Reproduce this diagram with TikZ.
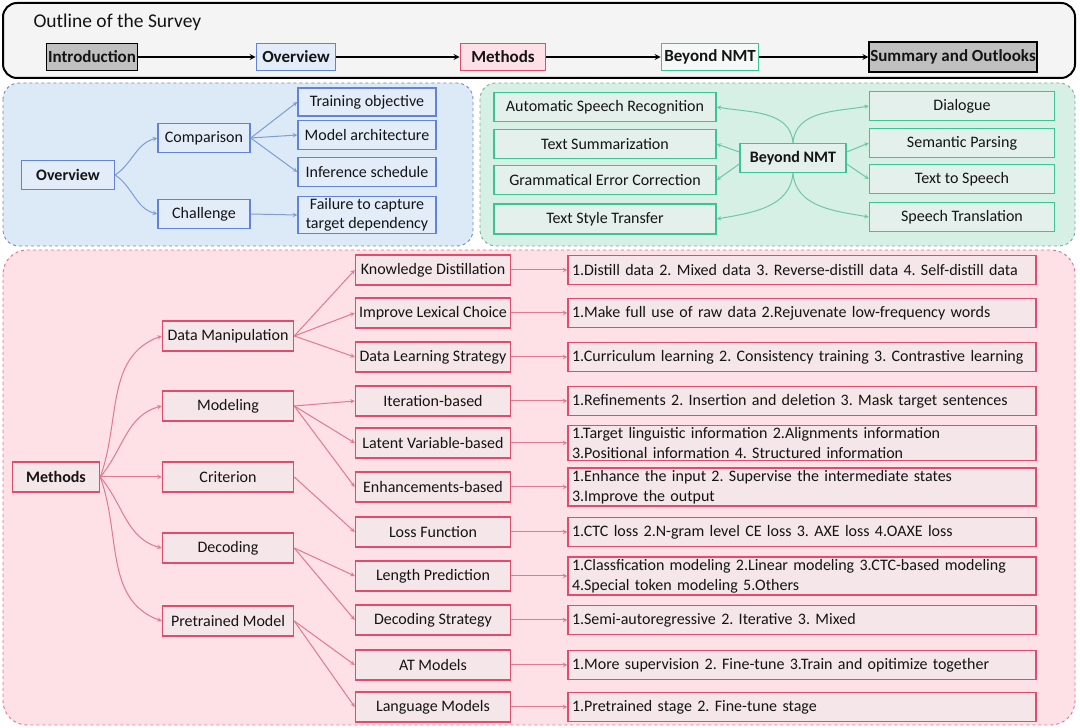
\documentclass[tikz,border=0pt]{standalone}
\usepackage{fontspec}
\setmainfont{Carlito}
\usetikzlibrary{positioning,arrows}
\definecolor{txt}{RGB}{20,20,20}
\definecolor{topFill}{RGB}{244,244,244}
\definecolor{grayBox}{RGB}{192,192,192}
\definecolor{ovFill}{RGB}{220,233,247}
\definecolor{ovBox}{RGB}{227,237,250}
\definecolor{ovLine}{RGB}{98,130,216}
\definecolor{ovArrow}{RGB}{125,158,212}
\definecolor{ovDash}{RGB}{120,138,168}
\definecolor{bnFill}{RGB}{214,240,230}
\definecolor{bnBox}{RGB}{228,240,235}
\definecolor{bnLine}{RGB}{60,196,151}
\definecolor{bnArrow}{RGB}{110,200,166}
\definecolor{bnDash}{RGB}{128,168,152}
\definecolor{mFill}{RGB}{253,225,231}
\definecolor{mBox}{RGB}{244,230,233}
\definecolor{mLine}{RGB}{227,75,109}
\definecolor{mArrow}{RGB}{224,122,140}
\definecolor{mDash}{RGB}{232,111,138}
\frenchspacing
\begin{document}
\begin{tikzpicture}[x=1pt,y=1pt,>=stealth,
  every node/.style={font=\fontsize{16}{18}\selectfont,text=txt},
  panel/.style={dashed,line width=0.9pt},
  topbox/.style={draw,line width=1.8pt,inner sep=1pt,minimum height=27pt,font=\fontsize{17}{19}\selectfont\bfseries},
  ovnode/.style={draw=ovLine,fill=ovBox,line width=1.5pt,inner sep=2pt,minimum height=29pt},
  bnnode/.style={draw=bnLine,fill=bnBox,line width=1.5pt,inner sep=2pt,minimum height=29pt},
  mnode/.style={draw=mLine,fill=mBox,line width=1.5pt,inner sep=2pt,minimum height=30pt},
  lvone/.style={mnode,minimum width=131pt},
  lvtwo/.style={mnode,inner xsep=1pt,minimum width=155pt},
  desc/.style={mnode,minimum height=29pt,text width=460pt,inner xsep=4pt,align=left,font=\fontsize{16}{20}\selectfont},
  toparrow/.style={->,line width=1.6pt,black},
  ovarrow/.style={->,line width=1pt,ovArrow},
  bnarrow/.style={->,line width=1pt,bnArrow},
  marrow/.style={->,line width=1pt,mArrow}]
\useasboundingbox (0,0) rectangle (1080,728);

% panels
\draw[fill=topFill,line width=2pt,rounded corners=14pt] (3,725) rectangle (1075,650);
\draw[panel,draw=ovDash,fill=ovFill,rounded corners=16pt] (3,645) rectangle (473,482);
\draw[panel,draw=bnDash,fill=bnFill,rounded corners=16pt] (480,645) rectangle (1075,482);
\draw[panel,draw=mDash,fill=mFill,rounded corners=24pt] (3,478) rectangle (1075,3);

% outline of the survey
\node[anchor=west,font=\fontsize{19.5}{22}\selectfont] (title) at (30,706) {Outline of the Survey};
\node[topbox,fill=grayBox,minimum width=91pt] (tIntro) at (92,671) {Introduction};
\node[topbox,draw=ovLine,fill=ovBox,minimum width=79pt] (tOver) at (296,671) {Overview};
\node[topbox,draw=mLine,fill=mFill,minimum width=85pt] (tMeth) at (503,671) {Methods};
\node[topbox,draw=bnLine,fill=bnBox!40,minimum width=97pt] (tBeyond) at (710,671) {Beyond NMT};
\node[topbox,fill=grayBox,minimum width=167pt,minimum height=30pt] (tSum) at (953,671) {Summary and Outlooks};
\path[toparrow] (tIntro) edge (tOver)
  (tOver) edge (tMeth)
  (tMeth) edge (tBeyond)
  (tBeyond) edge (tSum);

% overview
\node[ovnode,minimum width=93pt,font=\fontsize{16}{18}\selectfont\bfseries] (ov) at (68,553) {Overview};
\node[ovnode,minimum width=92pt] (cmp) at (204,590) {Comparison};
\node[ovnode,minimum width=92pt] (chl) at (204,514) {Challenge};
\node[ovnode,minimum width=138pt,minimum height=28pt] (obj) at (367,626) {Training objective};
\node[ovnode,minimum width=138pt] (arch) at (367,593) {Model architecture};
\node[ovnode,minimum width=138pt] (sched) at (367,556) {Inference schedule};
\node[ovnode,minimum width=138pt,align=center,font=\fontsize{16}{19}\selectfont] (fail) at (367,513) {Failure to capture\\target dependency};
\path[ovarrow] (ov.east) edge[out=35,in=195] (cmp.west)
  (ov.east) edge[out=-35,in=165] (chl.west)
  (cmp.east) edge (obj.west)
  (cmp.east) edge (arch.west)
  (cmp.east) edge (sched.west)
  (chl.east) edge (fail.west);

% beyond NMT
\node[bnnode,minimum width=106pt,font=\fontsize{16}{18}\selectfont\bfseries] (bn) at (793,570) {Beyond NMT};
\node[bnnode,minimum width=222pt] (asr) at (605,621) {Automatic Speech Recognition};
\node[bnnode,minimum width=222pt] (summ) at (605,584) {Text Summarization};
\node[bnnode,minimum width=222pt] (gec) at (605,548) {Grammatical Error Correction};
\node[bnnode,minimum width=222pt,minimum height=30pt] (tst) at (605,509) {Text Style Transfer};
\node[bnnode,minimum width=185pt] (dia) at (962,622) {Dialogue};
\node[bnnode,minimum width=185pt] (sp) at (962,585) {Semantic Parsing};
\node[bnnode,minimum width=185pt] (tts) at (962,549) {Text to Speech};
\node[bnnode,minimum width=185pt] (st) at (962,511) {Speech Translation};
\path[bnarrow] (bn.north) edge[out=95,in=-10] (asr.east)
  (bn.north) edge[out=85,in=190] (dia.west)
  ([yshift=6pt]bn.west) edge (summ.east)
  ([yshift=-6pt]bn.west) edge (gec.east)
  (bn.south) edge[out=-95,in=10] (tst.east)
  (bn.south) edge[out=-85,in=170] (st.west)
  ([yshift=6pt]bn.east) edge (sp.west)
  ([yshift=-6pt]bn.east) edge (tts.west);

% methods
\node[mnode,minimum width=87pt,font=\fontsize{16}{18}\selectfont\bfseries] (meth) at (56,251) {Methods};
\node[lvone] (dm) at (228,392) {Data Manipulation};
\node[lvone] (mod) at (228,322) {Modeling};
\node[lvone] (crit) at (228,251) {Criterion};
\node[lvone] (dec) at (228,180) {Decoding};
\node[lvone] (pm) at (228,107) {Pretrained Model};

\node[lvtwo] (kd) at (433,458) {Knowledge Distillation};
\node[lvtwo] (lex) at (433,415) {Improve Lexical Choice};
\node[lvtwo] (dls) at (433,371) {Data Learning Strategy};
\node[lvtwo] (iter) at (433,327) {Iteration-based};
\node[lvtwo] (lat) at (433,285) {Latent Variable-based};
\node[lvtwo] (enh) at (433,241) {Enhancements-based};
\node[lvtwo] (loss) at (433,196) {Loss Function};
\node[lvtwo] (len) at (433,152) {Length Prediction};
\node[lvtwo] (dst) at (433,108) {Decoding Strategy};
\node[lvtwo] (at) at (433,63) {AT Models};
\node[lvtwo] (lm) at (433,21) {Language Models};

\node[desc,right=56pt of kd] (kdD) {1.Distill data 2. Mixed data 3. Reverse-distill data 4. Self-distill data};
\node[desc,right=56pt of lex] (lexD) {1.Make full use of raw data 2.Rejuvenate low-frequency words};
\node[desc,right=56pt of dls] (dlsD) {1.Curriculum learning 2. Consistency training 3. Contrastive learning};
\node[desc,right=56pt of iter] (iterD) {1.Refinements 2. Insertion and deletion 3. Mask target sentences};
\node[desc,right=56pt of lat] (latD) {1.Target linguistic information 2.Alignments information\\3.Positional information 4. Structured information};
\node[desc,right=56pt of enh] (enhD) {1.Enhance the input 2. Supervise the intermediate states\\3.Improve the output};
\node[desc,right=56pt of loss] (lossD) {1.CTC loss 2.N-gram level CE loss 3. AXE loss 4.OAXE loss};
\node[desc,right=56pt of len] (lenD) {1.Classfication modeling 2.Linear modeling 3.CTC-based modeling\\4.Special token modeling 5.Others};
\node[desc,right=56pt of dst] (dstD) {1.Semi-autoregressive 2. Iterative 3. Mixed};
\node[desc,right=56pt of at] (atD) {1.More supervision 2. Fine-tune 3.Train and opitimize together};
\node[desc,right=56pt of lm] (lmD) {1.Pretrained stage 2. Fine-tune stage};

\path[marrow] (meth.east) edge[out=70,in=200] (dm.west)
  (meth.east) edge[out=50,in=195] (mod.west)
  (meth.east) edge (crit.west)
  (meth.east) edge[out=-50,in=165] (dec.west)
  (meth.east) edge[out=-70,in=160] (pm.west)
  (dm.east) edge (kd.west)
  (dm.east) edge (lex.west)
  (dm.east) edge (dls.west)
  (mod.east) edge (iter.west)
  (mod.east) edge (lat.west)
  (mod.east) edge (enh.west)
  (crit.east) edge (loss.west)
  (dec.east) edge (len.west)
  (dec.east) edge (dst.west)
  (pm.east) edge (at.west)
  (pm.east) edge (lm.west);
\path[marrow] (kd) edge (kdD) (lex) edge (lexD) (dls) edge (dlsD)
  (iter) edge (iterD) (lat) edge (latD) (enh) edge (enhD)
  (loss) edge (lossD) (len) edge (lenD) (dst) edge (dstD)
  (at) edge (atD) (lm) edge (lmD);
\end{tikzpicture}
\end{document}
